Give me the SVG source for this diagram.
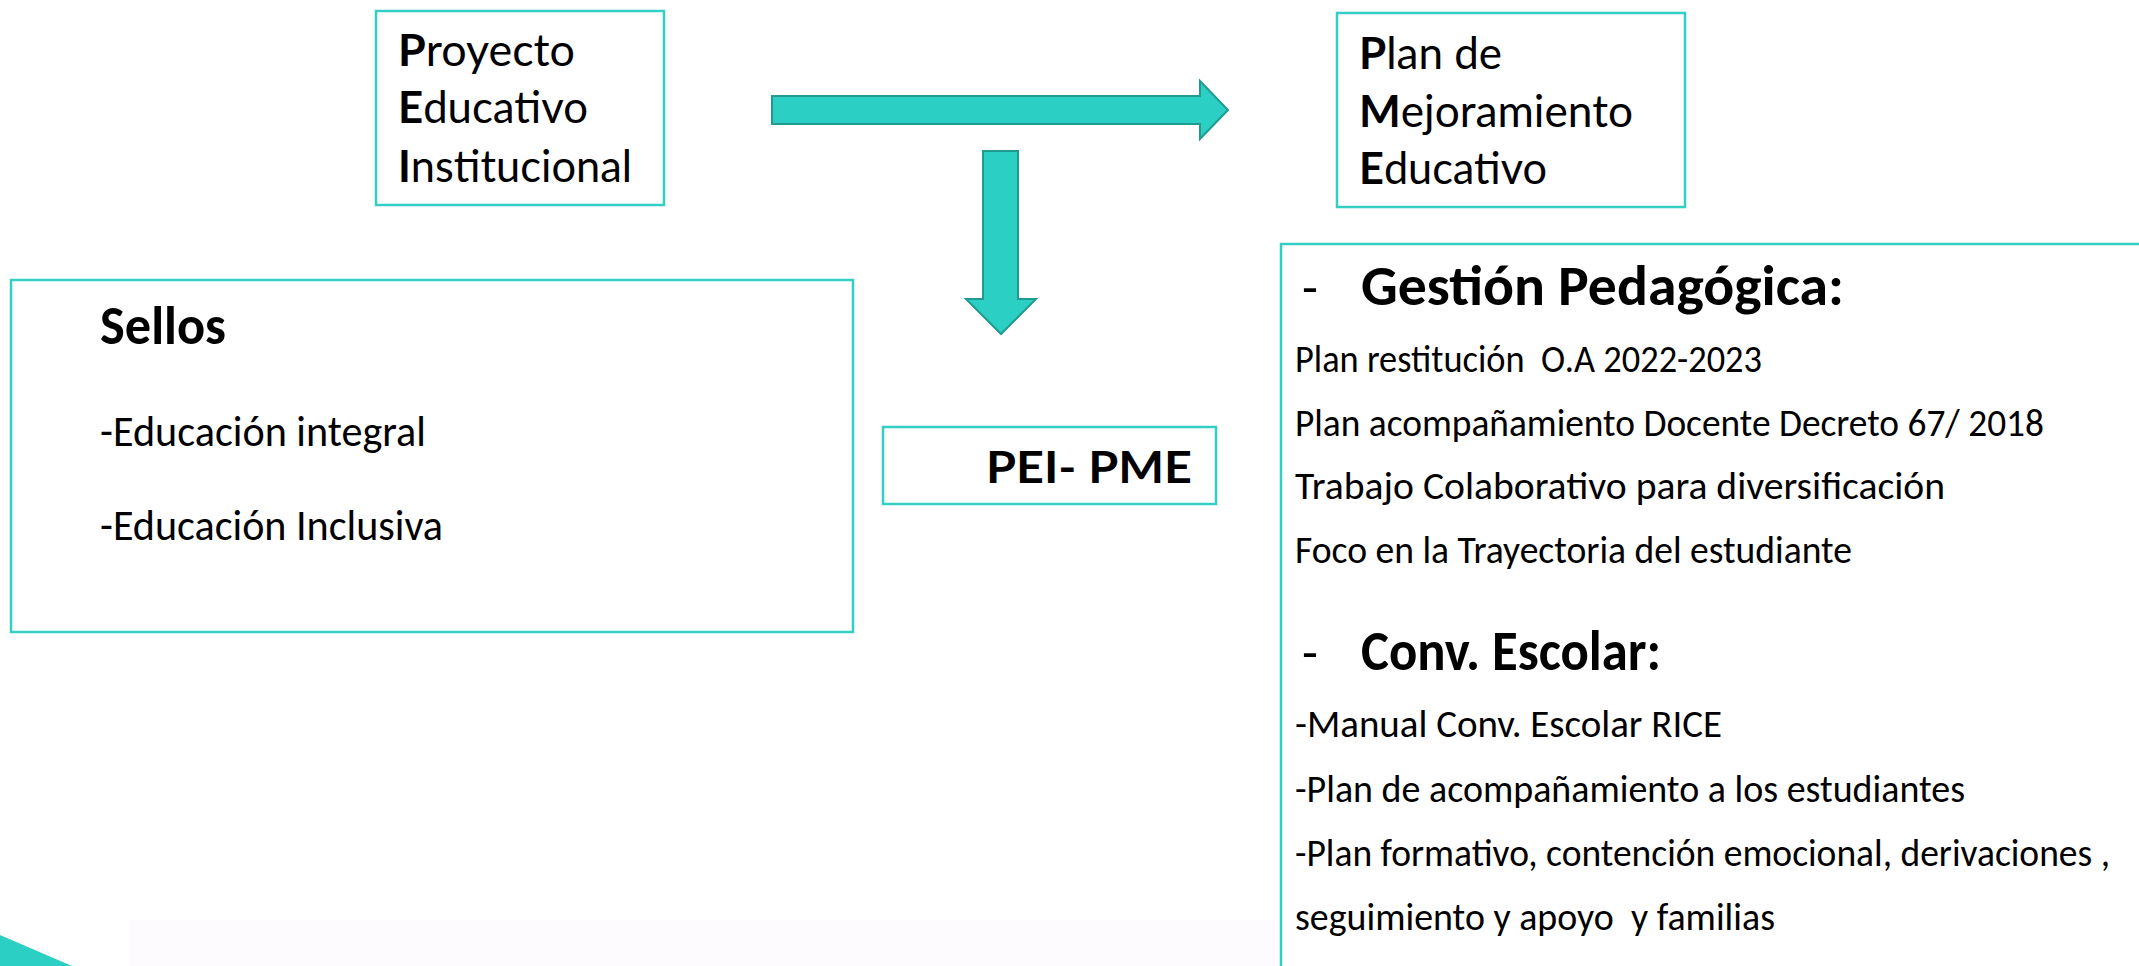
<svg xmlns="http://www.w3.org/2000/svg" width="2139" height="966" viewBox="0 0 2139 966">
<style>
.box{fill:#ffffff;stroke:#33cfc4;stroke-width:2.5}
.arrow{fill:#2bcfc3;stroke:#1f9b8f;stroke-width:2;stroke-linejoin:miter}
.gs{font-family:Lato,"Liberation Sans",sans-serif;font-size:44px;fill:#000}
.cal{font-family:Carlito,Lato,"Liberation Sans",sans-serif;fill:#000}
.b{font-weight:bold}
.body{font-size:39px}
.head{font-size:56px;font-weight:bold}
.dash{font-size:52px}
</style>
<rect x="0" y="0" width="2139" height="966" fill="#ffffff"/>
<rect x="130" y="920" width="2009" height="46" fill="#fdfbfd"/>
<polygon points="0,935 72,966 0,966" fill="#2bcfc3"/>

<g id="connectors">
<polygon class="arrow" points="772,96 1200,96 1200,81 1228,110 1200,139 1200,124 772,124"/>
<polygon class="arrow" points="983,151 1018,151 1018,299 1036,299 1001,334 966,299 983,299"/>
</g>

<g id="pei">
<rect class="box" x="376" y="11" width="288" height="194"/>
<text class="gs" x="398" y="66" textLength="177" lengthAdjust="spacingAndGlyphs"><tspan class="b">P</tspan>royecto</text>
<text class="gs" x="398" y="123" textLength="190" lengthAdjust="spacingAndGlyphs"><tspan class="b">E</tspan>ducativo</text>
<text class="gs" x="398" y="182" textLength="234" lengthAdjust="spacingAndGlyphs"><tspan class="b">I</tspan>nstitucional</text>
</g>

<g id="pme">
<rect class="box" x="1337" y="13" width="348" height="194"/>
<text class="gs" x="1359" y="69" textLength="143" lengthAdjust="spacingAndGlyphs"><tspan class="b">P</tspan>lan de</text>
<text class="gs" x="1359" y="127" textLength="274" lengthAdjust="spacingAndGlyphs"><tspan class="b">M</tspan>ejoramiento</text>
<text class="gs" x="1359" y="184" textLength="188" lengthAdjust="spacingAndGlyphs"><tspan class="b">E</tspan>ducativo</text>
</g>

<g id="sellos">
<rect class="box" x="11" y="280" width="842" height="352"/>
<text class="cal b" x="100" y="344" font-size="54" textLength="126" lengthAdjust="spacingAndGlyphs">Sellos</text>
<text class="cal" x="100" y="446" font-size="44" textLength="326" lengthAdjust="spacingAndGlyphs">-Educación integral</text>
<text class="cal" x="100" y="540" font-size="44" textLength="343" lengthAdjust="spacingAndGlyphs">-Educación Inclusiva</text>
</g>

<g id="peipme">
<rect class="box" x="883" y="427" width="333" height="77"/>
<text class="gs b" x="986" y="483" font-size="46" textLength="206" lengthAdjust="spacingAndGlyphs">PEI- PME</text>
</g>

<g id="plan">
<rect class="box" x="1281" y="244" width="880" height="740"/>
<text class="cal dash" x="1302" y="305">-</text>
<text class="cal head" x="1361" y="305" textLength="483" lengthAdjust="spacingAndGlyphs">Gestión Pedagógica:</text>
<text class="cal body" x="1295" y="372" textLength="467" lengthAdjust="spacingAndGlyphs" xml:space="preserve">Plan restitución  O.A 2022-2023</text>
<text class="cal body" x="1295" y="436" textLength="749" lengthAdjust="spacingAndGlyphs">Plan acompañamiento Docente Decreto 67/ 2018</text>
<text class="cal body" x="1295" y="499" textLength="650" lengthAdjust="spacingAndGlyphs">Trabajo Colaborativo para diversificación</text>
<text class="cal body" x="1295" y="563" textLength="557" lengthAdjust="spacingAndGlyphs">Foco en la Trayectoria del estudiante</text>
<text class="cal dash" x="1302" y="670">-</text>
<text class="cal head" x="1361" y="670" textLength="300" lengthAdjust="spacingAndGlyphs">Conv. Escolar:</text>
<text class="cal body" x="1295" y="737" textLength="427" lengthAdjust="spacingAndGlyphs">-Manual Conv. Escolar RICE</text>
<text class="cal body" x="1295" y="802" textLength="670" lengthAdjust="spacingAndGlyphs">-Plan de acompañamiento a los estudiantes</text>
<text class="cal body" x="1295" y="866" textLength="815" lengthAdjust="spacingAndGlyphs">-Plan formativo, contención emocional, derivaciones ,</text>
<text class="cal body" x="1295" y="930" textLength="480" lengthAdjust="spacingAndGlyphs" xml:space="preserve">seguimiento y apoyo  y familias</text>
</g>
</svg>
